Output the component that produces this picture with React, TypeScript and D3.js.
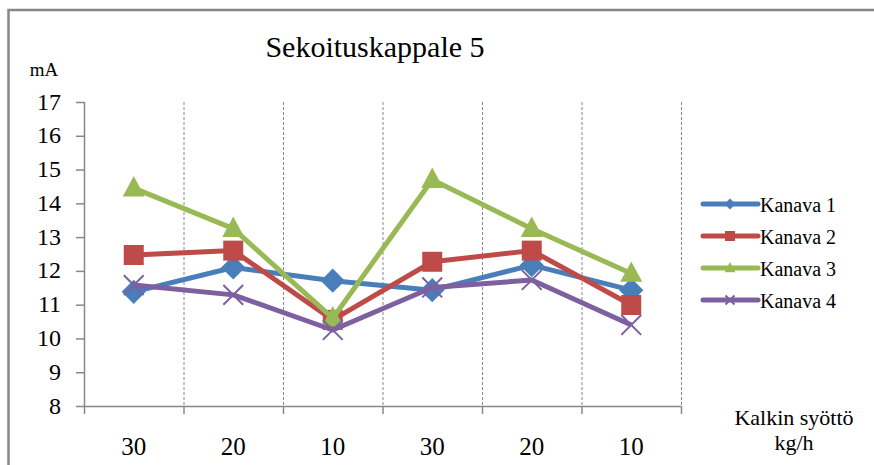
import React from "react";
import * as d3 from "d3";

const categories = ["30", "20", "10", "30", "20", "10"];
const seriesNames = ["Kanava 1", "Kanava 2", "Kanava 3", "Kanava 4"];
const kanava1 = [11.38, 12.1, 11.71, 11.43, 12.17, 11.43];
const kanava2 = [12.47, 12.6, 10.55, 12.27, 12.6, 10.99];
const kanava3 = [14.45, 13.25, 10.6, 14.7, 13.25, 11.92];
const kanava4 = [11.58, 11.29, 10.25, 11.51, 11.73, 10.4];
const yTicks = [8, 9, 10, 11, 12, 13, 14, 15, 16, 17];

const colors = ["#4A7EBB", "#BE4B48", "#98B954", "#7D60A0"];
const markers = ["diamond", "square", "triangle", "cross"];
const seriesValues = [kanava1, kanava2, kanava3, kanava4];

const W = 874;
const H = 465;
const plot = { left: 84, right: 681, top: 102, bottom: 406 };
const FONT = "Liberation Serif, Tinos, Times New Roman, Times, DejaVu Serif, serif";

function Marker({ kind, color, x, y, s }: { kind: string; color: string; x: number; y: number; s: number }) {
  if (kind === "diamond") {
    const r = s * 0.55;
    return <path d={`M${x},${y - r}L${x + r},${y}L${x},${y + r}L${x - r},${y}Z`} fill={color} />;
  }
  if (kind === "square") {
    const r = s * 0.5;
    return <rect x={x - r} y={y - r} width={2 * r} height={2 * r} fill={color} />;
  }
  if (kind === "triangle") {
    const r = s * 0.55;
    return <path d={`M${x},${y - r * 1.1}L${x + r},${y + r * 0.75}L${x - r},${y + r * 0.75}Z`} fill={color} />;
  }
  const r = s * 0.45;
  return (
    <path
      d={`M${x - r},${y - r}L${x + r},${y + r}M${x - r},${y + r}L${x + r},${y - r}`}
      stroke={color}
      strokeWidth={2}
      fill="none"
    />
  );
}

export default function App() {
  const x = d3
    .scaleBand<number>()
    .domain(categories.map((_, i) => i))
    .range([plot.left, plot.right])
    .padding(0);
  const y = d3.scaleLinear().domain([8, 17]).range([plot.bottom, plot.top]);
  const cx = (i: number) => (x(i) as number) + x.bandwidth() / 2;
  const line = d3
    .line<number>()
    .x((_, i) => cx(i))
    .y((v) => y(v));

  const boundaries = d3.range(categories.length + 1).map((i) => plot.left + i * x.bandwidth());
  const markerSizes = [22, 20, 20, 22];

  return (
    <svg width={W} height={H} style={{ position: "absolute", left: 0, top: 0, background: "#fff", fontFamily: FONT }}>
      <rect x={8.5} y={10} width={W + 10} height={H + 10} fill="#fff" stroke="#868686" strokeWidth={2.5} />

      <text x={375} y={57} textAnchor="middle" style={{ fontFamily: FONT }} fontSize={30} fill="#000">
        Sekoituskappale 5
      </text>
      <text x={44} y={76} textAnchor="middle" style={{ fontFamily: FONT }} fontSize={19} fill="#000">
        mA
      </text>

      {/* vertical dashed gridlines at category boundaries */}
      {boundaries.slice(1).map((bx, i) => (
        <line
          key={`g${i}`}
          x1={bx + 0.5}
          x2={bx + 0.5}
          y1={plot.top}
          y2={plot.bottom}
          stroke="#888"
          strokeWidth={1}
          strokeDasharray="3,2"
        />
      ))}

      {/* y axis */}
      <line x1={plot.left + 0.5} x2={plot.left + 0.5} y1={plot.top} y2={plot.bottom} stroke="#888" strokeWidth={1.5} />
      {yTicks.map((t) => (
        <g key={`y${t}`}>
          <line x1={plot.left - 8} x2={plot.left} y1={y(t) + 0.5} y2={y(t) + 0.5} stroke="#888" strokeWidth={1.5} />
          <text
            x={61}
            y={y(t) + 2}
            textAnchor="end"
            dominantBaseline="middle"
            style={{ fontFamily: FONT }}
            fontSize={24}
            fill="#000"
          >
            {t}
          </text>
        </g>
      ))}

      {/* x axis */}
      <line x1={plot.left} x2={plot.right} y1={plot.bottom + 0.5} y2={plot.bottom + 0.5} stroke="#888" strokeWidth={1.5} />
      {boundaries.map((bx, i) => (
        <line key={`xt${i}`} x1={bx + 0.5} x2={bx + 0.5} y1={plot.bottom} y2={plot.bottom + 8} stroke="#888" strokeWidth={1.5} />
      ))}
      {categories.map((c, i) => (
        <text key={`xl${i}`} x={cx(i)} y={455} textAnchor="middle" style={{ fontFamily: FONT }} fontSize={25} fill="#000">
          {c}
        </text>
      ))}
      <text x={794} y={425} textAnchor="middle" style={{ fontFamily: FONT }} fontSize={22} fill="#000">
        Kalkin syöttö
      </text>
      <text x={794} y={450} textAnchor="middle" style={{ fontFamily: FONT }} fontSize={22} fill="#000">
        kg/h
      </text>

      {/* series */}
      {seriesValues.map((vals, s) => (
        <g key={`s${s}`}>
          <path d={line(vals) as string} fill="none" stroke={colors[s]} strokeWidth={5} strokeLinejoin="round" />
          {vals.map((v, i) => (
            <Marker key={i} kind={markers[s]} color={colors[s]} x={cx(i)} y={y(v)} s={markerSizes[s]} />
          ))}
        </g>
      ))}

      {/* legend */}
      {seriesNames.map((n, s) => {
        const ly = 204 + s * 32;
        return (
          <g key={`l${s}`}>
            <line x1={703} x2={758} y1={ly} y2={ly} stroke={colors[s]} strokeWidth={5} strokeLinecap="round" />
            <Marker kind={markers[s]} color={colors[s]} x={730} y={ly} s={10} />
            <text x={760} y={ly + 8} style={{ fontFamily: FONT }} fontSize={20} fill="#000">
              {n}
            </text>
          </g>
        );
      })}
    </svg>
  );
}
